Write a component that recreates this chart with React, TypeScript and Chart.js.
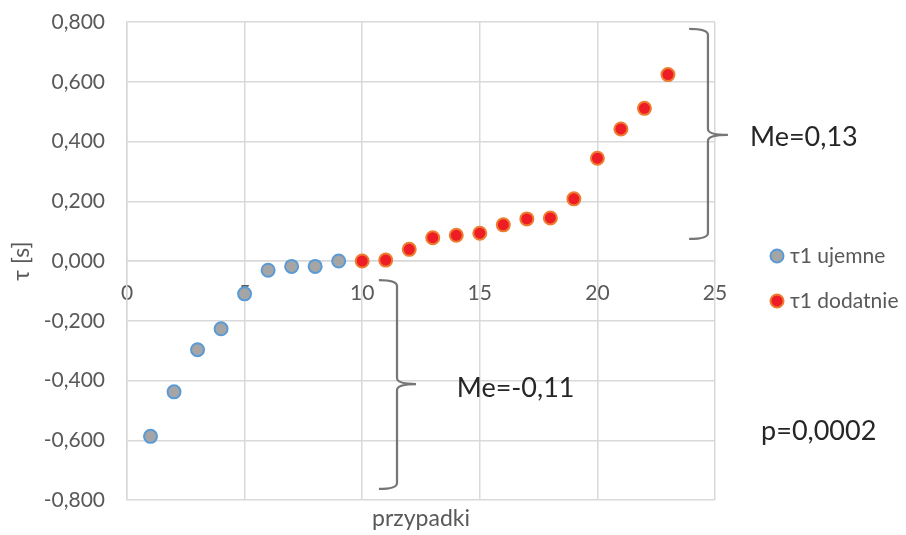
import React, { useEffect, useRef } from "react";
import { Chart, registerables } from "chart.js";

Chart.register(...registerables);

// ---- data ----
const casesNeg = [1, 2, 3, 4, 5, 6, 7, 8, 9];
const tauNeg = [-0.587, -0.438, -0.297, -0.227, -0.11, -0.031, -0.018, -0.018, 0.0];
const casesPos = [10, 11, 12, 13, 14, 15, 16, 17, 18, 19, 20, 21, 22, 23];
const tauPos = [0.0, 0.003, 0.039, 0.078, 0.086, 0.093, 0.121, 0.141, 0.144, 0.208, 0.344, 0.442, 0.511, 0.624];
const seriesLabels = ["τ1 ujemne", "τ1 dodatnie"];
const xTitle = "przypadki";
const yTitle = "τ [s]";
const annotationTexts = ["Me=0,13", "Me=-0,11", "p=0,0002"];
// positions of annotation texts in data units (left, baseline)
const annotationX = [26.49, 14.02, 26.96];
const annotationY = [0.385, -0.455, -0.599];
// braces in data units: end x, spine x, tip x, top y, mid y, bottom y
const braceEndX = [23.9, 10.71];
const braceSpineX = [24.7, 11.48];
const braceTipX = [25.55, 12.29];
const braceTopY = [0.777, -0.064];
const braceMidY = [0.422, -0.412];
const braceBotY = [0.074, -0.763];

const FONT = "Lato, 'Open Sans', sans-serif";
const GRID = "#d9d9d9";
const TICK = "#595959";

const colorsFill = ["#a5a5a5", "#ee1c24"];
const colorsBorder = ["#5b9bd5", "#ed7d31"];

const fmt = (v: number) => {
  const n = Math.abs(v) < 1e-9 ? 0 : v;
  return n.toFixed(3).replace(".", ",");
};

const overlayPlugin = {
  id: "overlay",
  afterDraw(chart: any) {
    const { ctx, chartArea, scales } = chart;
    const xs = scales.x;
    const ys = scales.y;
    ctx.save();
    // braces
    ctx.strokeStyle = "#767676";
    ctx.lineWidth = 2.25;
    ctx.lineJoin = "round";
    ctx.lineCap = "butt";
    for (let i = 0; i < braceEndX.length; i++) {
      const xe = xs.getPixelForValue(braceEndX[i]);
      const xv = xs.getPixelForValue(braceSpineX[i]);
      const xt = xs.getPixelForValue(braceTipX[i]);
      const yt = ys.getPixelForValue(braceTopY[i]);
      const ym = ys.getPixelForValue(braceMidY[i]);
      const yb = ys.getPixelForValue(braceBotY[i]);
      const r = 6;
      ctx.beginPath();
      ctx.moveTo(xe, yt);
      ctx.quadraticCurveTo(xv, yt, xv, yt + r);
      ctx.lineTo(xv, ym - r);
      ctx.quadraticCurveTo(xv, ym, xt, ym);
      ctx.moveTo(xt, ym);
      ctx.quadraticCurveTo(xv, ym, xv, ym + r);
      ctx.lineTo(xv, yb - r);
      ctx.quadraticCurveTo(xv, yb, xe, yb);
      ctx.stroke();
    }
    // annotation texts
    ctx.fillStyle = "#262626";
    ctx.font = `27px ${FONT}`;
    ctx.textAlign = "left";
    ctx.textBaseline = "alphabetic";
    for (let i = 0; i < annotationTexts.length; i++) {
      ctx.fillText(
        annotationTexts[i],
        xs.getPixelForValue(annotationX[i]),
        ys.getPixelForValue(annotationY[i])
      );
    }
    // legend
    ctx.font = `21px ${FONT}`;
    const lx = chartArea.right + 62;
    const ly0 = (chartArea.top + chartArea.bottom) / 2 - 5;
    for (let i = 0; i < seriesLabels.length; i++) {
      const cy = ly0 + i * 45;
      ctx.beginPath();
      ctx.arc(lx, cy, 6.5, 0, Math.PI * 2);
      ctx.fillStyle = colorsFill[i];
      ctx.fill();
      ctx.lineWidth = 2;
      ctx.strokeStyle = colorsBorder[i];
      ctx.stroke();
      ctx.fillStyle = TICK;
      ctx.fillText(seriesLabels[i], lx + 13, cy + 7);
    }
    // x axis title
    ctx.font = `23px ${FONT}`;
    ctx.textAlign = "center";
    ctx.fillStyle = TICK;
    ctx.fillText(xTitle, (chartArea.left + chartArea.right) / 2, chartArea.bottom + 26);
    ctx.restore();
  },
};

export default function App() {
  const ref = useRef<HTMLCanvasElement | null>(null);
  useEffect(() => {
    if (!ref.current) return;
    const chart = new Chart(ref.current, {
      type: "scatter",
      data: {
        datasets: [
          {
            label: seriesLabels[0],
            data: casesNeg.map((x, i) => ({ x, y: tauNeg[i] })),
            backgroundColor: colorsFill[0],
            borderColor: colorsBorder[0],
            borderWidth: 2,
            pointRadius: 6.5,
          },
          {
            label: seriesLabels[1],
            data: casesPos.map((x, i) => ({ x, y: tauPos[i] })),
            backgroundColor: colorsFill[1],
            borderColor: colorsBorder[1],
            borderWidth: 2,
            pointRadius: 6.5,
          },
        ],
      },
      options: {
        responsive: false,
        animation: false,
        maintainAspectRatio: false,
        layout: { padding: { top: 22, right: 191, bottom: 35, left: 0 } },
        plugins: {
          legend: { display: false },
          tooltip: { enabled: false },
        },
        scales: {
          x: {
            type: "linear",
            position: { y: 0 } as any,
            min: 0,
            max: 25,
            ticks: {
              stepSize: 5,
              padding: 20,
              color: TICK,
              font: { family: FONT, size: 21 },
              callback: (v: any) => String(v),
            },
            grid: { color: GRID, lineWidth: 1.5, drawTicks: false },
            border: { color: GRID, width: 1.5 },
            afterFit: (s: any) => {
              s.height = 0;
            },
          },
          y: {
            type: "linear",
            position: "left",
            min: -0.8,
            max: 0.8,
            ticks: {
              stepSize: 0.2,
              padding: 0,
              color: TICK,
              font: { family: FONT, size: 21 },
              callback: (v: any) => fmt(Number(v)),
            },
            grid: { color: GRID, lineWidth: 1.5, drawTicks: true, tickLength: 22, tickColor: "rgba(0,0,0,0)" },
            border: { color: GRID, width: 1.5 },
            title: {
              display: true,
              text: yTitle,
              color: TICK,
              font: { family: FONT, size: 23 },
              padding: { top: 8, bottom: 0 },
            },
            afterFit: (s: any) => {
              s.width = 127;
            },
          },
        },
      },
      plugins: [overlayPlugin],
    });
    return () => chart.destroy();
  }, []);
  return (
    <div style={{ position: "absolute", left: 0, top: 0, width: 906, height: 535, background: "#fff" }}>
      <canvas ref={ref} width={906} height={535} style={{ display: "block" }} />
    </div>
  );
}
